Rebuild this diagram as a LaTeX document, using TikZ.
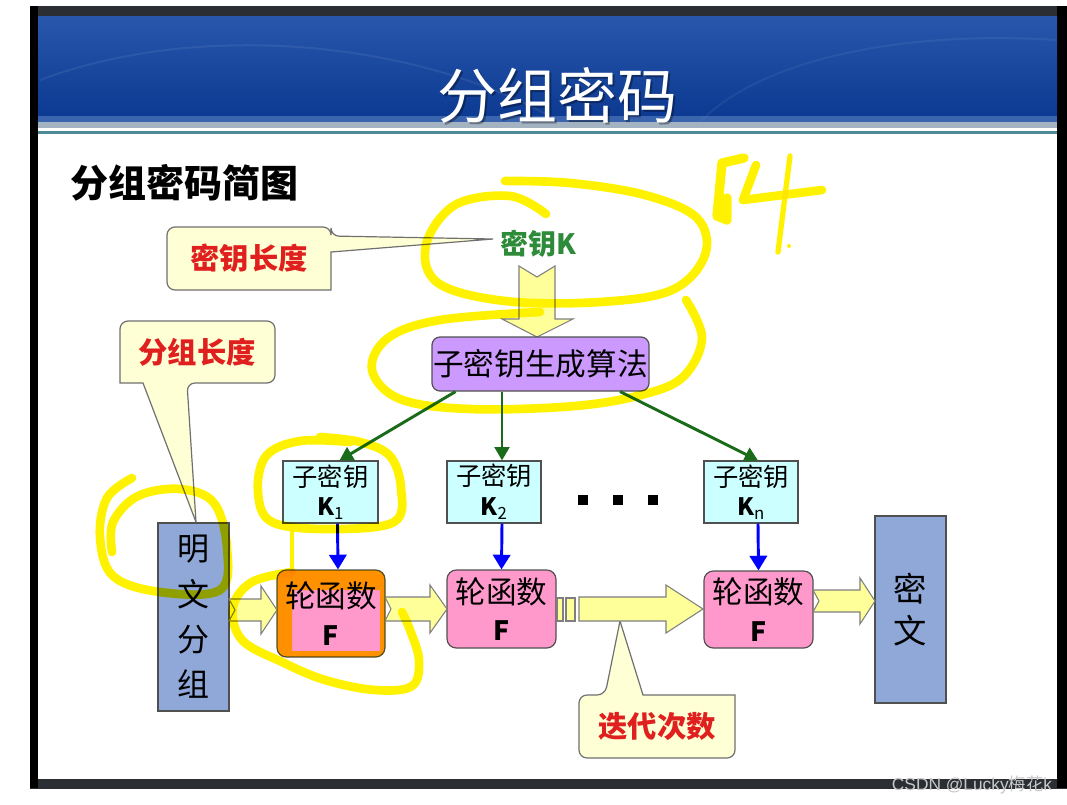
\documentclass[tikz,border=0pt]{standalone}
\usepackage{fontspec}
\setmainfont{Liberation Sans}
\newfontfamily\cjk{Noto Sans CJK SC}
\usetikzlibrary{arrows.meta,calc}
\newcommand\fsz[2]{\fontsize{#1pt}{#2pt}\selectfont}
\definecolor{darkband}{HTML}{2B2F33}
\definecolor{hdtop}{HTML}{2857AC}
\definecolor{hdmid}{HTML}{0A3C9C}
\definecolor{hdbot}{HTML}{0B3890}
\definecolor{hdstrip}{HTML}{5A82C0}
\definecolor{hdgray}{HTML}{A3B3C2}
\definecolor{hdteal}{HTML}{4E8A96}
\definecolor{calfill}{HTML}{FFFFD5}
\definecolor{calline}{HTML}{707070}
\definecolor{calred}{HTML}{E0201E}
\definecolor{keygreen}{HTML}{2E8B3A}
\definecolor{garr}{HTML}{1A6B1A}
\definecolor{gfill}{HTML}{CC99FF}
\definecolor{keyfill}{HTML}{CCFFFF}
\definecolor{ffill}{HTML}{FF99CC}
\definecolor{txtfill}{HTML}{8FA8D8}
\definecolor{boxline}{HTML}{505050}
\definecolor{arrfill}{HTML}{FFFF99}
\definecolor{arrline}{HTML}{7F7F7F}
\definecolor{wmgray}{HTML}{C8C8C8}
% right-pointing block arrow: x0, tip, yc, half shaft, half head, head length, notch
\newcommand\rblock[7]{\draw[barrow] (#1,#3-#4) -- (#2-#6,#3-#4) -- (#2-#6,#3-#5) -- (#2,#3) -- (#2-#6,#3+#5) -- (#2-#6,#3+#4) -- (#1,#3+#4) -- (#1+#7,#3) -- cycle;}
\begin{document}
\begin{tikzpicture}[x=0.75pt,y=-0.75pt,
  wh/.style 2 args={minimum width=#1*0.75pt,minimum height=#2*0.75pt},
  box/.style={draw=boxline,line width=0.9pt,inner sep=0pt,align=center},
  keybox/.style={box,fill=keyfill,font=\cjk\fsz{19}{23}},
  fbox/.style={box,fill=ffill,rounded corners=7pt,font=\cjk\fsz{23}{26}},
  txtbox/.style={box,fill=txtfill,font=\cjk\fsz{24}{34}},
  callout/.style={draw=calline,fill=calfill,line width=0.9pt},
  calltext/.style={font=\cjk\bfseries\fsz{22}{26},text=calred,inner sep=0pt},
  barrow/.style={draw=arrline,fill=arrfill,line width=0.8pt,line join=miter},
  garrow/.style={draw=garr,line width=2.2pt,-{Triangle[length=10pt,width=11pt]}},
  bluearrow/.style={draw=blue,line width=2.2pt,-{Triangle[length=11pt,width=13pt]}},
  dot/.style={fill=black,minimum size=7.5pt,inner sep=0pt},
  hl/.style={draw=yellow,line width=6.5pt,line cap=round,line join=round,blend mode=multiply},
]
\useasboundingbox (0,0) rectangle (1067,804);
\fill[white] (0,0) rectangle (1067,804);
% frame
\fill[darkband] (30,6) rectangle (1067,16);
\fill[darkband] (30,779) rectangle (1067,789);
\fill[black] (30,6) rectangle (38,788);
\fill[black] (1057,6) rectangle (1067,788);
% header
\shade[top color=hdtop,middle color=hdmid,bottom color=hdbot] (38,16) rectangle (1057,122);
\draw[white,opacity=0.07,line width=1.5pt] (40,80) .. controls (200,20) and (420,40) .. (560,122);
\draw[white,opacity=0.06,line width=1.5pt] (700,122) .. controls (760,60) and (900,30) .. (1057,40);
\fill[hdstrip,opacity=0.6] (38,116) rectangle (1057,122);
\fill[hdgray] (38,122) rectangle (1057,128);
\fill[white] (38,128) rectangle (1057,131);
\fill[hdteal] (38,131) rectangle (1057,134);
% title
\node[font=\cjk\fsz{45}{50},text=black,opacity=0.35] at (559,97) {分组密码};
\node[font=\cjk\fsz{45}{50},text=white] (title) at (557,95) {分组密码};
\node[font=\cjk\bfseries\fsz{28.5}{32}] (sub) at (184,183) {分组密码简图};
% callouts
\draw[callout] [rounded corners=6pt] (167,258) -- (167,227) -- (331,227) -- (331,236) [sharp corners] -- (493,239) -- (331,252) -- (331,290) [rounded corners=6pt] -- (167,290) -- cycle;
\node[calltext] (c1) at (249,258) {密钥长度};
\draw[callout] [rounded corners=6pt] (120,352) -- (120,321) -- (275,321) -- (275,383) -- (187,383) [sharp corners] -- (196,522) -- (143,383) -- (120,383) [rounded corners=6pt] -- cycle;
\node[calltext] (c2) at (197,352) {分组长度};
\draw[callout] [rounded corners=6pt] (579,726) -- (579,695) -- (605,695) [sharp corners] -- (620,621) -- (643,695) -- (735,695) [rounded corners=6pt] -- (735,758) -- (579,758) -- cycle;
\node[calltext] (c3) at (657,726) {迭代次数};
% key
\node[font=\cjk\bfseries\fsz{21}{24},text=keygreen,inner sep=0pt] (K) at (538,244) {密钥K};
\draw[barrow] (519,266) -- (537,277) -- (555,266) -- (555,319) -- (573,319) -- (537,337) -- (502,319) -- (519,319) -- cycle;
\node[box,fill=gfill,rounded corners=6pt,wh={217}{54},font=\cjk\fsz{23}{26}] (G) at (540.5,364) {子密钥生成算法};
% subkeys
\node[keybox,wh={95}{62}] (K1) at (330.5,492) {子密钥\\[-1pt]{\fsz{18}{20}\bfseries K\textsubscript{\mdseries 1}}};
\node[keybox,wh={94}{62}] (K2) at (494,492) {子密钥\\[-1pt]{\fsz{18}{20}\bfseries K\textsubscript{\mdseries 2}}};
\node[keybox,wh={94}{62}] (Kn) at (751,492) {子密钥\\[-1pt]{\fsz{18}{20}\bfseries K\textsubscript{\mdseries n}}};
\node[dot] (d1) at (583,500) {};
\node[dot] (d2) at (618,500) {};
\node[dot] (d3) at (653,500) {};
% round functions
\node[fbox,wh={108}{87}] (F1) at (331,613.5) {轮函数\\[2pt]{\fsz{20}{22}\bfseries F}};
\node[fbox,wh={109}{78}] (F2) at (501.5,609) {轮函数\\[2pt]{\fsz{20}{22}\bfseries F}};
\node[fbox,wh={109}{77}] (Fn) at (758.5,609.5) {轮函数\\[2pt]{\fsz{20}{22}\bfseries F}};
\node[txtbox,wh={71}{188}] (P) at (193.5,617) {明\\文\\分\\组};
\node[txtbox,wh={71}{187},font=\cjk\fsz{25}{31}] (C) at (910.5,609.5) {密\\文};
% green arrows
\draw[garrow] ($(G.south)+(-85,0)$) -- ($(K1.north)+(9,0)$);
\draw[garrow] ($(G.south)+(-38.5,0)$) -- ($(K2.north)+(8,0)$);
\draw[garrow] ($(G.south)+(79.5,0)$) -- ($(Kn.north)+(7,0)$);
% blue arrows
\draw[bluearrow] ($(K1.south)+(7,0)$) -- ($(F1.north)+(7,0)$);
\draw[bluearrow] ($(K2.south)+(8,0)$) -- (F2.north);
\draw[bluearrow] ($(Kn.south)+(7,0)$) -- (Fn.north);
% block arrows
\rblock{229}{277}{610}{11}{24}{16}{6}
\rblock{385}{447}{609}{12}{24}{17}{6}
\draw[barrow] (557,598) rectangle (563,621);
\draw[barrow] (566,598) rectangle (575,621);
\rblock{579}{703}{609}{12}{24}{37}{0}
\rblock{813}{875}{601}{11}{23}{15}{6}
% watermark
\node[font=\fsz{13}{15},text=wmgray,inner sep=0pt] (wm) at (972,785) {CSDN @Lucky{\cjk 梅花}k};
% highlighter scribbles
\draw[hl] plot[smooth,tension=0.6] coordinates {(546,214) (510,196) (455,205) (426,245) (438,283) (505,301) (600,302) (672,290) (705,255) (697,218) (645,195) (570,183) (505,181)};
\draw[hl] plot[smooth,tension=0.6] coordinates {(686,300) (702,338) (684,376) (645,394) (575,406) (470,409) (400,399) (372,370) (388,338) (440,320) (540,312)};
\draw[hl] plot[smooth,tension=0.6] coordinates {(350,442) (300,441) (266,456) (258,492) (272,522) (330,529) (394,522) (401,488) (390,456) (360,442) (320,437)};
\draw[hl,line width=3pt] (292,532) -- (292,572);
\draw[hl] plot[smooth,tension=0.6] coordinates {(132,478) (107,498) (100,537) (113,576) (160,592) (220,590) (227,548) (214,503) (180,489) (138,496) (113,522) (112,552)};
\draw[hl] plot[smooth,tension=0.6] coordinates {(292,572) (252,582) (233,607) (242,640) (282,662) (325,680) (375,690) (412,686) (419,660) (410,630) (402,612)};
\fill[yellow,blend mode=multiply,even odd rule] [rounded corners=7pt] (277,570) rectangle (385,657) [sharp corners] (292,590) rectangle (380,651);
\draw[hl,line width=7pt] (744,158) -- (722,163) -- (717,216) -- (727,220) -- (727,198);
\draw[hl] (756,165) -- (743,200) -- (822,190);
\draw[hl,line width=4pt] (790,156) -- (778,252);
\fill[yellow] (789,246) circle (1.5pt);
\end{tikzpicture}
\end{document}
